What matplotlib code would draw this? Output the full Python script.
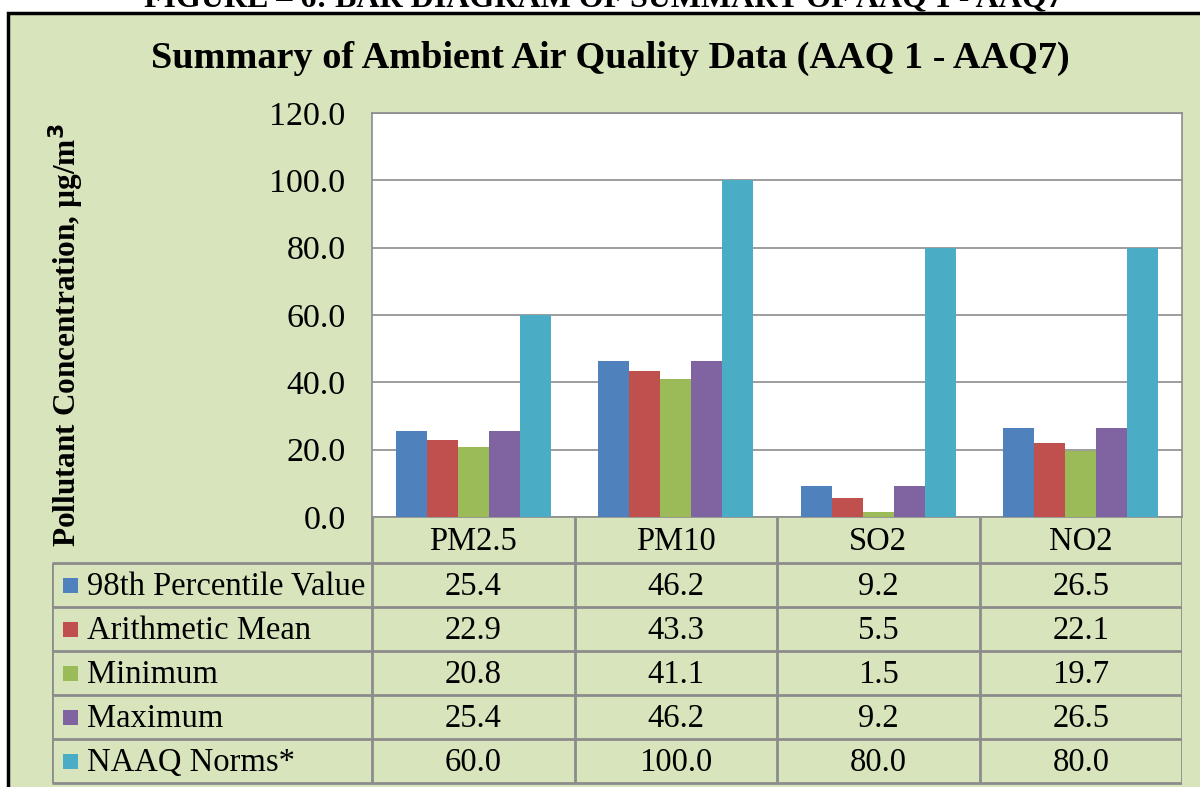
import numpy as np
import matplotlib.pyplot as plt
from matplotlib.patches import Rectangle

plt.rcParams['font.family'] = ['Liberation Serif', 'DejaVu Serif']

categories = ['PM2.5', 'PM10', 'SO2', 'NO2']
series_names = ['98th Percentile Value', 'Arithmetic Mean', 'Minimum', 'Maximum', 'NAAQ Norms*']
p98 = [25.4, 46.2, 9.2, 26.5]
mean = [22.9, 43.3, 5.5, 22.1]
minimum = [20.8, 41.1, 1.5, 19.7]
maximum = [25.4, 46.2, 9.2, 26.5]
naaq = [60.0, 100.0, 80.0, 80.0]
values = [p98, mean, minimum, maximum, naaq]
colors = ['#4F81BD', '#C0504D', '#9BBB59', '#8064A2', '#4BACC6']

bg = '#D8E4BC'
grid_c = '#8C8C8C'
W, H = 1200, 787

fig = plt.figure(figsize=(12, 7.87), dpi=100, facecolor='white')

def fx(px):
    return px / W

def fy(py):
    return 1 - py / H

# green panel with black frame, running off the right/bottom edge
fig.patches.append(Rectangle((fx(8), -0.1), 1.2, fy(13) + 0.1, transform=fig.transFigure,
                             facecolor=bg, edgecolor='black', linewidth=2.5, zorder=-5))

# caption that is cut at the top of the page
fig.text(0.503, fy(6), 'FIGURE – 6: BAR DIAGRAM OF SUMMARY OF AAQ 1 - AAQ7',
         ha='center', va='baseline', fontsize=23, fontweight='bold')

fig.text(0.509, fy(58), 'Summary of Ambient Air Quality Data (AAQ 1 - AAQ7)',
         ha='center', va='center', fontsize=27.5, fontweight='bold')

fig.text(fx(66), fy(335), 'Pollutant Concentration, µg/m$^\\mathbf{3}$', rotation=90,
         ha='center', va='center', fontsize=22.5, fontweight='bold')

# bar chart
ax = fig.add_axes([fx(372), fy(517), fx(1182) - fx(372), fy(113) - fy(517)])
ax.set_facecolor('white')
x = np.arange(len(categories))
bw = 0.153
for i, (vals, c) in enumerate(zip(values, colors)):
    ax.bar(x + (i - 2) * bw, vals, width=bw, color=c, zorder=3)
ax.set_xlim(-0.5, len(categories) - 0.5)
ax.set_ylim(0, 120)
ax.set_yticks(np.arange(0, 121, 20))
ax.set_yticklabels([f'{v:.1f}' for v in np.arange(0, 121, 20)], fontsize=24.5)
ax.tick_params(axis='y', length=0, pad=19)
ax.set_xticks([])
ax.yaxis.grid(True, color=grid_c, linewidth=1.2, zorder=0)
for s in ax.spines.values():
    s.set_color(grid_c)
    s.set_linewidth(1.2)

# data table under the bars
left_cols = 320 / 202.5
tx = fig.add_axes([fx(52), 0, fx(1182) - fx(52), fy(517)])
tx.set_xlim(-0.5 - left_cols, len(categories) - 0.5)
head_h = 46 / 44
n_rows = len(series_names)
tx.set_ylim(head_h + n_rows + 4 / 44, 0)
tx.axis('off')
lc = dict(color=grid_c, linewidth=2, solid_capstyle='butt')

xl = -0.5 - left_cols
xr = len(categories) - 0.5
# horizontal lines
for r in range(n_rows + 1):
    tx.plot([xl, xr], [head_h + r, head_h + r], **lc)
# vertical lines
for k in range(len(categories) + 1):
    tx.plot([k - 0.5, k - 0.5], [0, head_h + n_rows], **lc)
tx.plot([xl, xl], [head_h, head_h + n_rows], **lc)

fs = 23.5
for k, cat in enumerate(categories):
    tx.text(k, head_h / 2 + 0.05, cat, ha='center', va='center', fontsize=fs)
for r, (name, vals, c) in enumerate(zip(series_names, values, colors)):
    yc = head_h + r + 0.5
    tx.add_patch(Rectangle((xl + 11 / 202.5, yc - 7.5 / 44), 15 / 202.5, 15 / 44,
                           facecolor=c, edgecolor='none'))
    tx.text(xl + 35 / 202.5, yc + 0.05, name, ha='left', va='center', fontsize=fs)
    for k, v in enumerate(vals):
        tx.text(k, yc + 0.05, f'{v:.1f}', ha='center', va='center', fontsize=fs)

fig.savefig('out.png', dpi=100, facecolor=fig.get_facecolor())
